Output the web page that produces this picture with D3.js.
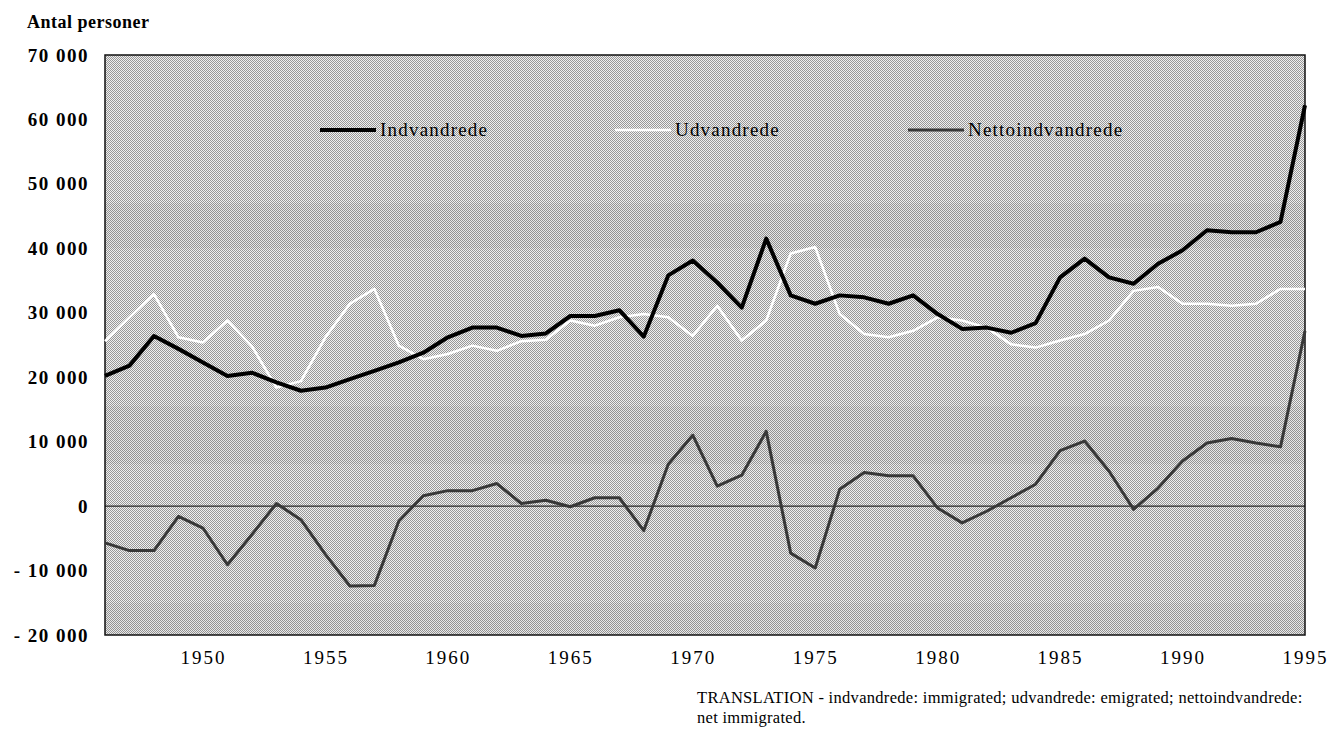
<!DOCTYPE html>
<html>
<head>
<meta charset="utf-8">
<script src="https://cdn.jsdelivr.net/npm/d3@7"></script>
<style>
  body { margin: 0; background: #fff; }
  text { font-family: "Liberation Serif", "Times New Roman", serif; }
</style>
</head>
<body>
<div id="chart"></div>
<script>
var w = 1330;
var h = 730;

// years 1946-1995
var years = d3.range(1946, 1996);

// Indvandrede (immigrated)
var indvandrede = [20200, 21800, 26400, 24400, 22300, 20200, 20700, 19200, 17900, 18400,
                   19700, 21000, 22300, 23800, 26200, 27700, 27700, 26400, 26800, 29500,
                   29500, 30400, 26300, 35800, 38100, 34700, 30800, 41500, 32700, 31400,
                   32700, 32400, 31400, 32700, 29800, 27500, 27700, 26900, 28400, 35500,
                   38400, 35500, 34500, 37600, 39700, 42800, 42500, 42500, 44100, 62200];

// Udvandrede (emigrated)
var udvandrede = [25600, 29300, 32900, 26200, 25400, 28800, 24800, 18400, 19400, 26200,
                  31400, 33700, 24900, 22800, 23600, 24900, 24100, 25600, 25800, 28800,
                  28000, 29300, 29800, 29300, 26400, 31100, 25700, 28800, 39200, 40200,
                  29800, 26700, 26200, 27200, 29300, 28800, 27700, 25100, 24600, 25700,
                  26700, 28800, 33400, 34000, 31400, 31400, 31100, 31400, 33700, 33700];

// Nettoindvandrede (net immigrated)
var netto = [-5700, -6900, -6900, -1600, -3400, -9100, -4400, 400, -2100, -7500,
             -12400, -12300, -2300, 1600, 2400, 2400, 3500, 400, 900, -100,
             1300, 1300, -3800, 6500, 11000, 3100, 4800, 11600, -7300, -9600,
             2600, 5200, 4700, 4700, -300, -2600, -800, 1300, 3400, 8600,
             10100, 5400, -500, 2800, 7000, 9800, 10500, 9800, 9200, 27200];

var yTicks = [-20000, -10000, 0, 10000, 20000, 30000, 40000, 50000, 60000, 70000];
var xTicks = [1950, 1955, 1960, 1965, 1970, 1975, 1980, 1985, 1990, 1995];

var seriesNames = ["Indvandrede", "Udvandrede", "Nettoindvandrede"];
var seriesColors = ["#000000", "#ffffff", "#383838"];
var seriesWidths = [4, 2.5, 3];
var seriesValues = [indvandrede, udvandrede, netto];

var x = d3.scaleLinear().domain([1946, 1995]).range([105, 1305]);
var y = d3.scaleLinear().domain([-20000, 70000]).range([635, 55]);

var svg = d3.select("#chart")
            .append("svg")
            .attr("width", w)
            .attr("height", h);

// dithered grey background like the printed halftone
var defs = svg.append("defs");
var pat = defs.append("pattern")
              .attr("id", "dots")
              .attr("patternUnits", "userSpaceOnUse")
              .attr("width", 2)
              .attr("height", 2);
pat.append("rect").attr("width", 2).attr("height", 2).attr("fill", "#f0f0f0");
pat.append("rect").attr("width", 1).attr("height", 1).attr("fill", "#989898");
pat.append("rect").attr("x", 1).attr("y", 1).attr("width", 1).attr("height", 1).attr("fill", "#989898");

svg.append("rect")
   .attr("x", x(1946))
   .attr("y", y(70000))
   .attr("width", x(1995) - x(1946))
   .attr("height", y(-20000) - y(70000))
   .attr("fill", "url(#dots)");

// slightly darker bands of the scanned print
[[47000, 40000], [15500, 6500], [-15000, -20000]].forEach(function(b) {
  svg.append("rect")
     .attr("x", x(1946))
     .attr("y", y(b[0]))
     .attr("width", x(1995) - x(1946))
     .attr("height", y(b[1]) - y(b[0]))
     .attr("fill", "#000")
     .attr("opacity", 0.03);
});

svg.append("rect")
   .attr("x", x(1946))
   .attr("y", y(70000))
   .attr("width", x(1995) - x(1946))
   .attr("height", y(-20000) - y(70000))
   .attr("fill", "none")
   .attr("stroke", "#111")
   .attr("stroke-width", 1.5);

// zero line
svg.append("line")
   .attr("x1", x(1946)).attr("x2", x(1995))
   .attr("y1", y(0)).attr("y2", y(0))
   .attr("stroke", "#000")
   .attr("stroke-width", 1);

// y axis
function yFormat(d) {
  var s = d3.format(",")(Math.abs(d)).replace(/,/g, " ");
  return d < 0 ? "- " + s : s;
}
var yAxis = svg.append("g")
   .attr("transform", "translate(" + x(1946) + ",0)")
   .call(d3.axisLeft(y).tickValues(yTicks).tickFormat(yFormat).tickSize(0).tickPadding(16));
yAxis.select(".domain").remove();
yAxis.selectAll("text")
     .style("font-family", "Liberation Serif, serif")
     .style("font-size", "19px")
     .style("font-weight", "bold")
     .style("letter-spacing", "1.5px")
     .attr("fill", "#000");

// x axis
var xAxis = svg.append("g")
   .attr("transform", "translate(0," + y(-20000) + ")")
   .call(d3.axisBottom(x).tickValues(xTicks).tickFormat(d3.format("d")).tickSize(0).tickPadding(16));
xAxis.select(".domain").remove();
xAxis.selectAll("text")
     .style("font-family", "Liberation Serif, serif")
     .style("font-size", "19px")
     .style("letter-spacing", "2px")
     .attr("fill", "#000");

// lines
var line = d3.line()
             .x(function(d, i) { return x(years[i]); })
             .y(function(d) { return y(d); });

// draw netto first, then emigrated, then immigrated on top
[2, 1, 0].forEach(function(k) {
  svg.append("path")
     .datum(seriesValues[k])
     .attr("d", line)
     .attr("fill", "none")
     .attr("stroke", seriesColors[k])
     .attr("stroke-width", seriesWidths[k])
     .attr("stroke-linejoin", "round");
});

// legend
var legendX = [320, 615, 908];
var legendY = 130;
seriesNames.forEach(function(name, k) {
  svg.append("line")
     .attr("x1", legendX[k]).attr("x2", legendX[k] + 56)
     .attr("y1", legendY).attr("y2", legendY)
     .attr("stroke", seriesColors[k])
     .attr("stroke-width", seriesWidths[k]);
  svg.append("text")
     .attr("x", legendX[k] + 60)
     .attr("y", legendY + 6)
     .style("font-size", "19px")
     .style("letter-spacing", "1.2px")
     .text(name);
});

// axis title
svg.append("text")
   .attr("x", 27)
   .attr("y", 28)
   .style("font-size", "18px")
   .style("font-weight", "bold")
   .style("letter-spacing", "0.5px")
   .text("Antal personer");

// translation note
svg.append("text")
   .attr("x", 697)
   .attr("y", 703)
   .style("font-size", "16.5px")
   .style("letter-spacing", "0.3px")
   .text("TRANSLATION - indvandrede: immigrated; udvandrede: emigrated; nettoindvandrede:");
svg.append("text")
   .attr("x", 697)
   .attr("y", 723)
   .style("font-size", "16.5px")
   .style("letter-spacing", "0.3px")
   .text("net immigrated.");
</script>
</body>
</html>
